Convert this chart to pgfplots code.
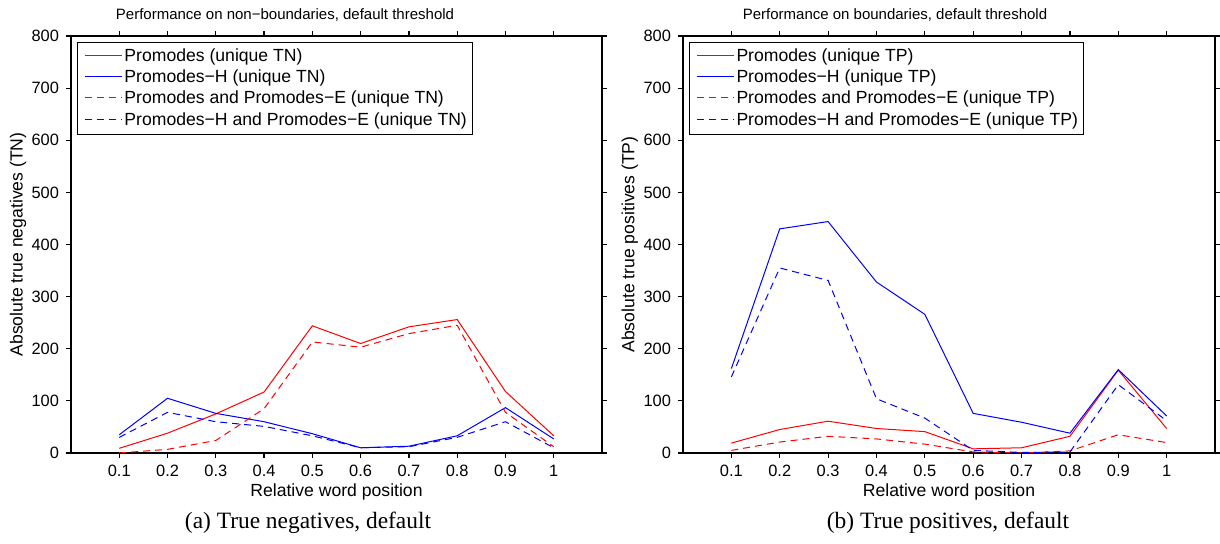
\documentclass[border=0pt]{standalone}
\usepackage{pgfplots}
\pgfplotsset{compat=1.18}
\usepackage{fontspec}
\setmainfont{Liberation Sans}
\newfontfamily\capfont{Liberation Serif}

% series: x = relative word position
\pgfplotstableread{
x    pr    ph    pre   phe
0.1  9     35    0     30
0.2  38    105   7     78
0.3  75    76    24    60
0.4  117   60    85    51
0.5  244   37    213   33
0.6  210   10    203   10
0.7  242   13    229   12
0.8  256   33    245   30
0.9  118   87    78    60
1.0  33    27    12    10
}\tn
\pgfplotstableread{
x    pr    ph    pre   phe
0.1  19    162   5     146
0.2  45    430   21    355
0.3  61    444   32    331
0.4  47    328   27    104
0.5  41    266   17    67
0.6  8     76    2     5
0.7  10    59    0     1
0.8  32    38    4     2
0.9  159   160   35    131
1.0  47    71    20    62
}\tp

\tikzset{dsh/.style={dash pattern=on 3.5pt off 2.5pt}}
% room for the legend samples, which are drawn inside the axes
\newcommand{\gap}{\hspace*{20.5pt}}
\newcommand{\samples}{%
  \draw[red,line width=0.5pt] ([xshift=7pt,yshift=-9.8pt]rel axis cs:0,1) -- ++(18.5pt,0pt);
  \draw[blue,line width=0.5pt] ([xshift=7pt,yshift=-20.3pt]rel axis cs:0,1) -- ++(18.5pt,0pt);
  \draw[red,dsh,line width=0.5pt] ([xshift=7pt,yshift=-31pt]rel axis cs:0,1) -- ++(18.5pt,0pt);
  \draw[blue,dsh,line width=0.5pt] ([xshift=7pt,yshift=-41.6pt]rel axis cs:0,1) -- ++(18.5pt,0pt);
}

\pgfplotsset{
  myax/.style={
    width=265.5pt, height=208.5pt, scale only axis,
    xmin=0, xmax=1.1, ymin=0, ymax=800,
    xtick={0.1,0.2,...,1.0}, ytick={0,100,...,800},
    xticklabels={0.1,0.2,0.3,0.4,0.5,0.6,0.7,0.8,0.9,1},
    tick align=outside, major tick length=2.5pt,
    axis line style={line width=0.7pt}, tick style={line width=0.6pt, black},
    /pgf/number format/assume math mode=true,
    ticklabel style={font=\fontsize{8.2}{9}\selectfont},
    label style={font=\fontsize{8.8}{10}\selectfont},
    xlabel style={at={(axis description cs:0.5,-0.0935)}, anchor=center},
    ylabel style={at={(axis description cs:-0.0998,0.5)}, anchor=center},
    xlabel={Relative word position},
    legend cell align=left,
    legend style={at={(axis description cs:0,1)}, anchor=north west,
      xshift=3pt, yshift=-3pt, line width=0.5pt, fill=none,
      font=\fontsize{8.8}{10.5}\selectfont, inner sep=1pt,
      row sep=-1.2pt},
    legend image code/.code={},
    every axis plot/.append style={line width=0.5pt},
  },
}

\begin{document}
\begin{tikzpicture}
\useasboundingbox (-35.5pt,-45.5pt) rectangle (574.5pt,226.5pt);

\begin{axis}[myax, ylabel={Absolute true negatives (TN)}]
\addplot[red] table[x=x,y=pr] {\tn};
\addlegendentry{\gap Promodes (unique TN)}
\addplot[blue] table[x=x,y=ph] {\tn};
\addlegendentry{\gap Promodes−H (unique TN)}
\addplot[red,dsh] table[x=x,y=pre] {\tn};
\addlegendentry{\gap Promodes and Promodes−E (unique TN)}
\addplot[blue,dsh] table[x=x,y=phe] {\tn};
\addlegendentry{\gap Promodes−H and Promodes−E (unique TN)}
\samples
\end{axis}

\begin{axis}[myax, at={(306pt,0pt)}, width=266pt, ylabel={Absolute true positives (TP)}]
\addplot[red] table[x=x,y=pr] {\tp};
\addlegendentry{\gap Promodes (unique TP)}
\addplot[blue] table[x=x,y=ph] {\tp};
\addlegendentry{\gap Promodes−H (unique TP)}
\addplot[red,dsh] table[x=x,y=pre] {\tp};
\addlegendentry{\gap Promodes and Promodes−E (unique TP)}
\addplot[blue,dsh] table[x=x,y=phe] {\tp};
\addlegendentry{\gap Promodes−H and Promodes−E (unique TP)}
\samples
\end{axis}

\node[font=\fontsize{7.5}{9}\selectfont] at (107pt,219pt) {Performance on non−boundaries, default threshold};
\node[font=\fontsize{7.5}{9}\selectfont] at (412pt,219pt) {Performance on boundaries, default threshold};
\node[font=\capfont\fontsize{11.7}{13}\selectfont] at (118.5pt,-35pt) {(a) True negatives, default};
\node[font=\capfont\fontsize{11.7}{13}\selectfont] at (438.5pt,-35pt) {(b) True positives, default};
\end{tikzpicture}
\end{document}
